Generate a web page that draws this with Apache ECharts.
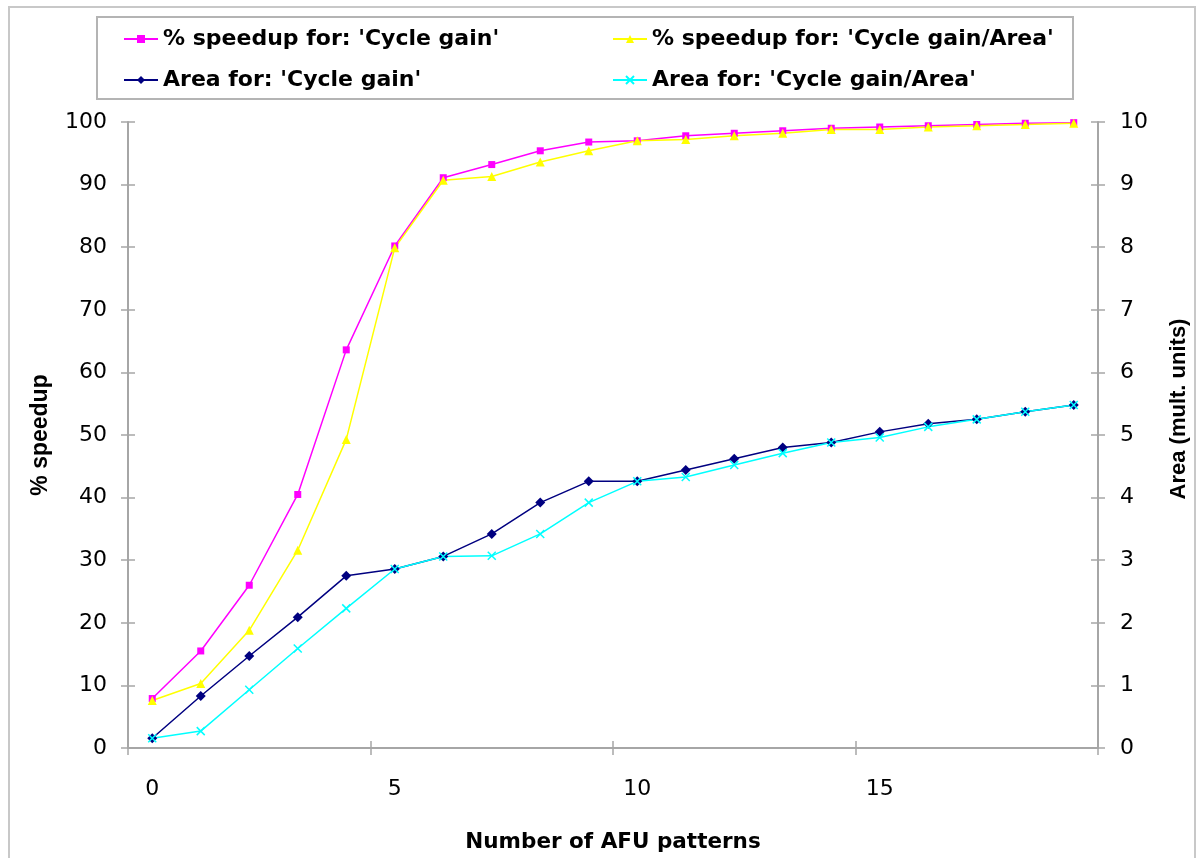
<!DOCTYPE html>
<html>
<head>
<meta charset="utf-8">
<title>% speedup and area vs. number of AFU patterns</title>
<script src="https://cdn.jsdelivr.net/npm/echarts@6/dist/echarts.min.js"></script>
<style>
  html, body { margin: 0; padding: 0; background: #ffffff; }
  #chart { width: 1200px; height: 858px; }
</style>
</head>
<body>
<div id="chart"></div>
<script>
// Number of AFU patterns (category axis)
const patterns = ['0','1','2','3','4','5','6','7','8','9','10','11','12','13','14','15','16','17','18','19'];

// % speedup (left axis)
const speedupCycleGain = [7.9, 15.5, 26.0, 40.5, 63.6, 80.2, 91.1, 93.2, 95.4, 96.8, 97.0, 97.8, 98.2, 98.6, 99.0, 99.2, 99.4, 99.6, 99.8, 99.9];
const speedupGainPerArea = [7.6, 10.3, 18.8, 31.6, 49.3, 79.9, 90.7, 91.3, 93.6, 95.4, 97.0, 97.2, 97.8, 98.2, 98.8, 98.8, 99.2, 99.4, 99.6, 99.8];

// Area in multiplier units (right axis)
const areaCycleGain = [0.155, 0.83, 1.47, 2.09, 2.75, 2.86, 3.06, 3.42, 3.92, 4.26, 4.26, 4.44, 4.62, 4.80, 4.88, 5.05, 5.18, 5.25, 5.37, 5.48];
const areaGainPerArea = [0.155, 0.27, 0.93, 1.59, 2.23, 2.86, 3.06, 3.07, 3.42, 3.92, 4.26, 4.33, 4.52, 4.71, 4.88, 4.96, 5.13, 5.25, 5.37, 5.48];

const names = [
  "% speedup for: 'Cycle gain'",
  "% speedup for: 'Cycle gain/Area'",
  "Area for: 'Cycle gain'",
  "Area for: 'Cycle gain/Area'"
];

const axisGray = '#a6a6a6';
const wideFamily = 'DejaVu Sans, Verdana, sans-serif';
const tickFont = { color: '#000', fontSize: 22, fontFamily: wideFamily };
const xTitleFont = { color: '#000', fontSize: 21.5, fontWeight: 'bold', fontFamily: wideFamily };
const yTitleFont = { color: '#000', fontSize: 23, fontWeight: 'bold', fontFamily: 'Liberation Sans, Arial, sans-serif' };
const legendFont = { color: '#000', fontSize: 22, fontWeight: 'bold', lineHeight: 22, fontFamily: wideFamily };
const crossSymbol = 'path://M0,0L10,10M10,0L0,10';

const chart = echarts.init(document.getElementById('chart'), null, { renderer: 'canvas' });

const legendCommon = {
  orient: 'vertical',
  padding: 0,
  itemWidth: 34,
  itemHeight: 10,
  itemGap: 19,
  textStyle: legendFont,
  selectedMode: false
};

chart.setOption({
  animation: false,
  backgroundColor: '#ffffff',
  graphic: [
    { type: 'rect', silent: true, z: -10,
      shape: { x: 9, y: 7, width: 1186, height: 900 },
      style: { fill: 'none', stroke: '#c8c8c8', lineWidth: 2 } },
    { type: 'rect', silent: true, z: -5,
      shape: { x: 97, y: 17, width: 976, height: 82 },
      style: { fill: '#ffffff', stroke: '#b4b4b4', lineWidth: 2 } }
  ],
  legend: [
    Object.assign({ left: 123, top: 28, data: [names[0], names[2]] }, legendCommon),
    Object.assign({ left: 612, top: 28, data: [names[1], names[3]] }, legendCommon)
  ],
  grid: { left: 128, right: 102, top: 122, bottom: 110, containLabel: false },
  xAxis: [
    {
      type: 'category', data: patterns, boundaryGap: true, position: 'bottom',
      name: 'Number of AFU patterns', nameLocation: 'middle', nameGap: 83,
      nameTextStyle: xTitleFont,
      axisLine: { show: true, lineStyle: { color: axisGray, width: 2 } },
      axisTick: { show: true, interval: 4, length: 7, alignWithLabel: false, lineStyle: { color: axisGray, width: 1.5 } },
      axisLabel: { interval: 4, margin: 30, ...tickFont },
      splitLine: { show: false }
    },
    {
      type: 'category', data: patterns, boundaryGap: true, position: 'bottom',
      axisLine: { show: false },
      axisTick: { show: true, inside: true, interval: 4, length: 7, alignWithLabel: false, lineStyle: { color: axisGray, width: 1.5 } },
      axisLabel: { show: false },
      splitLine: { show: false }
    }
  ],
  yAxis: [
    {
      type: 'value', min: 0, max: 100, interval: 10, position: 'left',
      name: '% speedup', nameLocation: 'middle', nameGap: 76, nameRotate: 90,
      nameTextStyle: yTitleFont,
      axisLine: { show: true, lineStyle: { color: axisGray, width: 2 } },
      axisTick: { show: true, length: 7, lineStyle: { color: axisGray, width: 1.5 } },
      axisLabel: { margin: 21, ...tickFont },
      splitLine: { show: false }
    },
    {
      type: 'value', min: 0, max: 10, interval: 1, position: 'right',
      name: 'Area (mult. units)', nameLocation: 'middle', nameGap: 70, nameRotate: 90,
      nameTextStyle: Object.assign({}, yTitleFont, { fontSize: 22, padding: [0, 0, 0, 52] }),
      axisLine: { show: true, lineStyle: { color: axisGray, width: 2 } },
      axisTick: { show: true, length: 7, lineStyle: { color: axisGray, width: 1.5 } },
      axisLabel: { margin: 22, ...tickFont },
      splitLine: { show: false }
    },
    {
      type: 'value', min: 0, max: 100, interval: 10, position: 'left',
      axisLine: { show: false },
      axisTick: { show: true, inside: true, length: 7, lineStyle: { color: axisGray, width: 1.5 } },
      axisLabel: { show: false },
      splitLine: { show: false }
    },
    {
      type: 'value', min: 0, max: 10, interval: 1, position: 'right',
      axisLine: { show: false },
      axisTick: { show: true, inside: true, length: 7, lineStyle: { color: axisGray, width: 1.5 } },
      axisLabel: { show: false },
      splitLine: { show: false }
    }
  ],
  series: [
    {
      name: names[0], type: 'line', xAxisIndex: 0, yAxisIndex: 0, data: speedupCycleGain,
      symbol: 'rect', symbolSize: 7,
      lineStyle: { color: '#ff00ff', width: 1.5 },
      itemStyle: { color: '#ff00ff' }
    },
    {
      name: names[1], type: 'line', xAxisIndex: 0, yAxisIndex: 0, data: speedupGainPerArea,
      symbol: 'triangle', symbolSize: 9,
      lineStyle: { color: '#ffff00', width: 1.5 },
      itemStyle: { color: '#ffff00' }
    },
    {
      name: names[2], type: 'line', xAxisIndex: 0, yAxisIndex: 1, data: areaCycleGain,
      symbol: 'diamond', symbolSize: 10,
      lineStyle: { color: '#000080', width: 1.5 },
      itemStyle: { color: '#000080' }
    },
    {
      name: names[3], type: 'line', xAxisIndex: 0, yAxisIndex: 1, data: areaGainPerArea,
      symbol: crossSymbol, symbolSize: 8,
      lineStyle: { color: '#00ffff', width: 1.5 },
      itemStyle: { color: '#00ffff', borderColor: '#00ffff', borderWidth: 1.5 }
    }
  ]
});
</script>
</body>
</html>
